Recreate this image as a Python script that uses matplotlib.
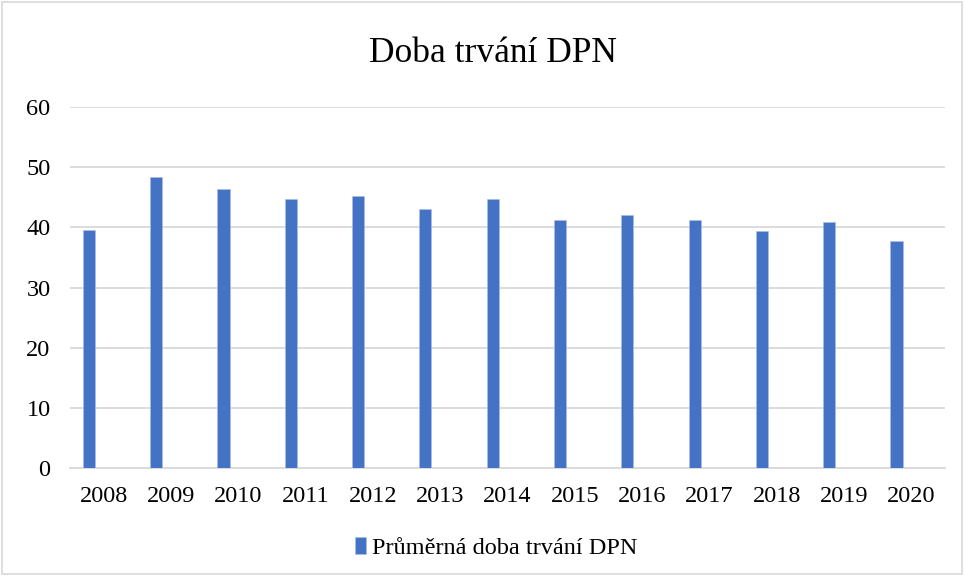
import numpy as np
import matplotlib.pyplot as plt
from matplotlib.patches import Rectangle

plt.rcParams['font.family'] = ['Liberation Serif', 'DejaVu Serif']

# data
years = ['2008', '2009', '2010', '2011', '2012', '2013', '2014',
         '2015', '2016', '2017', '2018', '2019', '2020']
avg_days = [39.5, 48.4, 46.4, 44.7, 45.2, 43.0, 44.7,
            41.3, 42.1, 41.2, 39.4, 40.9, 37.7]
series_name = 'Průměrná doba trvání DPN'
title = 'Doba trvání DPN'

fig = plt.figure(figsize=(9.65, 5.76), dpi=100)
ax = fig.add_axes([70 / 965, 108 / 576, 875 / 965, 361 / 576])

x = np.arange(len(years))
ax.bar(x - 0.22, avg_days, width=0.18, color='#4472C4', label=series_name,
       edgecolor='#a9bfe8', linewidth=0.4, zorder=3)

ax.set_xlim(-0.5, len(years) - 0.5)
ax.set_ylim(0, 60)
ax.set_yticks(range(0, 61, 10))
ax.set_xticks(x)
ax.set_xticklabels(years)
ax.grid(axis='y', color='#d9d9d9', linewidth=1.3, zorder=0)
for s in ['top', 'left', 'right']:
    ax.spines[s].set_visible(False)
ax.spines['bottom'].set_color('#d9d9d9')
ax.spines['bottom'].set_linewidth(1.3)
ax.tick_params(axis='both', length=0, labelsize=17.5, colors='black')
ax.tick_params(axis='y', pad=14)
ax.tick_params(axis='x', pad=13)

fig.text(493 / 965, 1 - 54 / 576, title, ha='center', va='center', fontsize=25.5)

fig.legend(loc='center', bbox_to_anchor=(496 / 965, 1 - 548 / 576), frameon=False,
           fontsize=17.5, handlelength=0.45, handleheight=0.7, handletextpad=0.25)

# light outer frame like the chart area border
fig.patches.append(Rectangle((0.002, 0.003), 0.995, 0.994, transform=fig.transFigure,
                             fill=False, edgecolor='#d9d9d9', linewidth=1.2))

plt.savefig('out.png', dpi=100)
